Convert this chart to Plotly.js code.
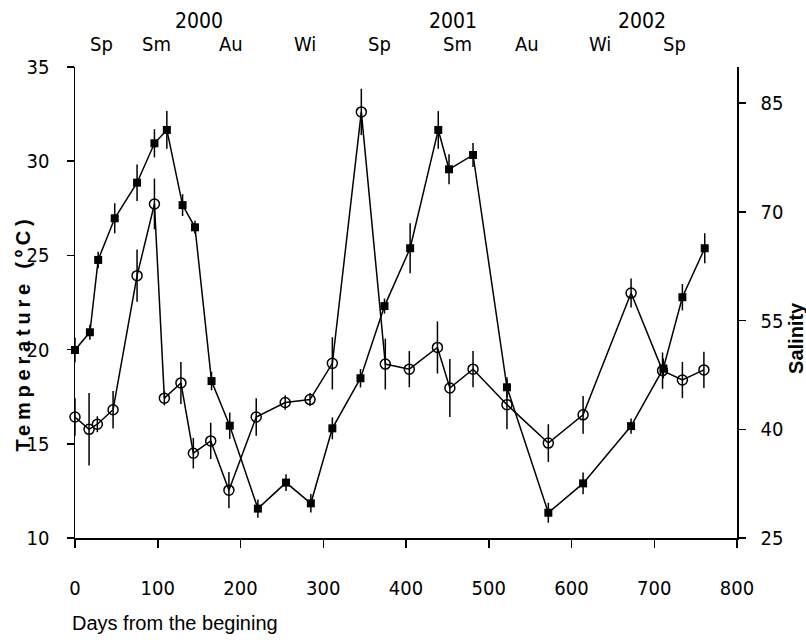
<!DOCTYPE html>
<html><head><meta charset="utf-8">
<script src="https://cdn.plot.ly/plotly-3.0.1.min.js"></script>
<style>
html,body{margin:0;padding:0;background:#fff;}
#chart{width:806px;height:640px;}
g.annotation[data-index="0"] text{letter-spacing:4.8px;}
</style></head><body><div id="chart"></div>
<script>
// Temperature (filled squares, left axis)
const tempDays = [0, 18, 28, 48, 75, 96, 111, 130, 145, 165, 187, 221, 255, 285, 311, 345, 374, 405, 439, 452, 481, 522, 572, 614, 672, 711, 734, 761];
const temp     = [19.98, 20.92, 24.76, 26.97, 28.86, 30.95, 31.66, 27.67, 26.49, 18.33, 15.96, 11.56, 12.94, 11.84, 15.82, 18.48, 22.31, 25.38, 31.66, 29.57, 30.33, 18.0, 11.34, 12.9, 15.94, 19.0, 22.78, 25.38];
const tempErr  = [0.65, 0.4, 0.44, 0.8, 0.97, 0.75, 1.0, 0.58, 0.35, 0.49, 0.7, 0.49, 0.44, 0.49, 0.58, 0.49, 0.4, 1.33, 1.0, 0.8, 0.64, 0.53, 0.53, 0.58, 0.4, 0.53, 0.7, 0.8];

// Salinity (open circles, right axis)
const salDays = [0, 17, 27, 46, 75, 96, 108, 128, 143, 164, 186, 219, 254, 284, 311, 346, 375, 404, 438, 453, 481, 522, 572, 614, 672, 710, 734, 760];
const sal     = [41.7, 40.0, 40.7, 42.7, 61.2, 71.1, 44.3, 46.4, 36.7, 38.4, 31.6, 41.7, 43.7, 44.1, 49.1, 83.8, 49.0, 48.3, 51.3, 45.7, 48.3, 43.4, 38.1, 42.0, 58.8, 48.1, 46.8, 48.2];
const salErr  = [2.6, 5.0, 1.1, 2.6, 3.6, 3.5, 1.0, 2.9, 2.1, 2.5, 2.5, 2.6, 1.0, 0.9, 3.6, 3.2, 3.5, 2.5, 3.6, 4.0, 2.5, 3.4, 2.6, 2.6, 2.0, 2.5, 2.5, 2.5];

// Axis ticks and labels
const xTicks = [0, 100, 200, 300, 400, 500, 600, 700, 800];
const tempTicks = [10, 15, 20, 25, 30, 35];
const salTicks = [25, 40, 55, 70, 85];
const seasonTicks = [54, 144, 234, 322, 412, 502, 591, 681, 771];
const seasonPos = [32, 99, 189, 278, 368, 462, 546, 635, 725];
const seasonLabels = ['Sp', 'Sm', 'Au', 'Wi', 'Sp', 'Sm', 'Au', 'Wi', 'Sp'];
const yearPos = [150, 457, 685];
const yearLabels = ['2000', '2001', '2002'];

const NARROW = '"Liberation Sans Narrow", "Arial Narrow", "DejaVu Sans Condensed", "Liberation Sans", sans-serif';
const REG = '"Liberation Sans", Arial, sans-serif';
const BLACK = '#000';

const traces = [
  {
    x: salDays, y: sal, yaxis: 'y2', xaxis: 'x', type: 'scatter', mode: 'lines+markers', cliponaxis: false,
    line: {color: BLACK, width: 1.5},
    marker: {symbol: 'circle-open', size: 10, color: BLACK, line: {width: 1.5, color: BLACK}},
    error_y: {type: 'data', array: salErr, visible: true, color: BLACK, thickness: 1.5, width: 0}
  },
  {
    x: tempDays, y: temp, yaxis: 'y', xaxis: 'x', type: 'scatter', mode: 'lines+markers', cliponaxis: false,
    line: {color: BLACK, width: 1.5},
    marker: {symbol: 'square', size: 8, color: BLACK},
    error_y: {type: 'data', array: tempErr, visible: true, color: BLACK, thickness: 1.5, width: 0}
  }
];

const annotations = [
  {text: 'Temperature (ºC)', xref: 'paper', yref: 'paper', x: -0.0785, y: 0.435, textangle: -90,
   xanchor: 'center', yanchor: 'middle',
   showarrow: false, font: {family: REG, size: 20, color: BLACK, weight: 'bold'}},
  {text: 'Salinity', xref: 'paper', yref: 'paper', x: 1.089, y: 0.4246, textangle: -90,
   xanchor: 'center', yanchor: 'middle',
   showarrow: false, font: {family: REG, size: 20, color: BLACK, weight: 'bold'}},
  {text: 'Days from the begining', xref: 'paper', yref: 'paper', x: -0.0076, y: -0.1805,
   xanchor: 'left', yanchor: 'middle',
   showarrow: false, font: {family: REG, size: 20, color: BLACK}}
];
seasonLabels.forEach((s, i) => annotations.push({
  text: s, xref: 'x', yref: 'paper', x: seasonPos[i], y: 1.0488, xanchor: 'center', yanchor: 'middle',
  showarrow: false, borderpad: 0, font: {family: NARROW, size: 20, color: BLACK}
}));
yearLabels.forEach((s, i) => annotations.push({
  text: s, xref: 'x', yref: 'paper', x: yearPos[i], y: 1.0976, xanchor: 'center', yanchor: 'middle',
  showarrow: false, borderpad: 0, font: {family: NARROW, size: 21, color: BLACK}
}));

const axCommon = {showline: true, linecolor: BLACK, linewidth: 1.5, showgrid: false, zeroline: false,
  tickcolor: BLACK, tickwidth: 1.5, tickfont: {family: NARROW, size: 20, color: BLACK}};

const layout = {
  width: 806, height: 640,
  margin: {l: 75, r: 69, t: 67, b: 102},
  showlegend: false, paper_bgcolor: '#fff', plot_bgcolor: '#fff',
  xaxis: Object.assign({}, axCommon, {range: [0, 800], tickmode: 'array', tickvals: xTicks,
    ticks: 'outside', ticklen: 8, ticklabelstandoff: 23}),
  xaxis2: Object.assign({}, axCommon, {overlaying: 'x', side: 'top', anchor: 'y', range: [0, 800],
    tickmode: 'array', tickvals: seasonTicks, ticks: 'outside', ticklen: 5, showticklabels: false}),
  xaxis3: Object.assign({}, axCommon, {overlaying: 'x', side: 'top', anchor: 'y', range: [0, 800],
    tickmode: 'array', tickvals: seasonTicks, ticks: 'inside', ticklen: 5, showticklabels: false}),
  yaxis: Object.assign({}, axCommon, {range: [10, 35], tickmode: 'array', tickvals: tempTicks,
    ticks: 'outside', ticklen: 7, ticklabelstandoff: 13}),
  yaxis2: Object.assign({}, axCommon, {overlaying: 'y', side: 'right', anchor: 'x', range: [25, 90],
    tickmode: 'array', tickvals: salTicks, ticks: 'outside', ticklen: 7, ticklabelstandoff: 11}),
  annotations: annotations
};

Plotly.newPlot('chart', traces, layout, {displayModeBar: false, staticPlot: true});
</script></body></html>
